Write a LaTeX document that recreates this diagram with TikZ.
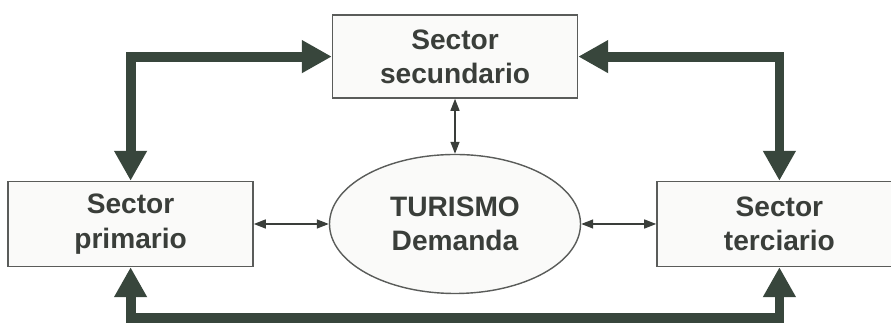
\documentclass[tikz,border=0pt]{standalone}
\usepackage{fontspec}
\setmainfont{Liberation Sans}
\usepackage{tikz}
\usetikzlibrary{arrows.meta, positioning, calc, shapes.geometric}

\definecolor{inkgray}{RGB}{58,62,58}
\definecolor{arrowgreen}{RGB}{56,70,60}
\definecolor{edgegray}{RGB}{90,92,90}
\definecolor{boxfill}{RGB}{250,250,249}

\begin{document}
\begin{tikzpicture}[
  box/.style={rectangle, draw=edgegray, line width=0.8pt, fill=boxfill,
              minimum width=4.9cm, minimum height=1.7cm, align=center,
              font=\fontsize{16}{19.5}\selectfont\bfseries, text=inkgray},
  oval/.style={ellipse, draw=edgegray, line width=0.8pt, fill=boxfill,
               minimum width=5.02cm, minimum height=2.78cm, align=center,
               font=\fontsize{16}{19.5}\selectfont\bfseries, text=inkgray},
  thin/.style={{Triangle[length=0.24cm, width=0.18cm]}-{Triangle[length=0.24cm, width=0.18cm]},
               line width=0.8pt, draw=inkgray},
  fat/.style={{Triangle[length=0.6cm, width=0.62cm]}-{Triangle[length=0.6cm, width=0.62cm]},
              line width=5.6pt, draw=arrowgreen},
]
\clip (0,0) rectangle (17.82,6.48);
\useasboundingbox (0,0) rectangle (17.82,6.48);

\node[oval] (tur) at (9.1,2.0) {TURISMO\\Demanda};
\node[box, left=1.5cm of tur] (prim) {Sector\\primario};
\node[box, right=1.5cm of tur] (terc) {Sector\\terciario};
\node[box, above=1.1cm of tur, minimum height=1.66cm] (sec) {Sector\\secundario};
\coordinate[below=1.02cm of prim.south] (low);

% thin links to the demand
\draw[thin] (prim.east) -- (tur.west);
\draw[thin] (tur.east) -- (terc.west);
\draw[thin] (sec.south) -- (tur.north);

% thick links between sectors
\draw[fat] (prim.north) |- (sec.west);
\draw[fat] (sec.east) -| (terc.north);
\draw[fat] (prim.south) -- (low) -| (terc.south);
\end{tikzpicture}
\end{document}
